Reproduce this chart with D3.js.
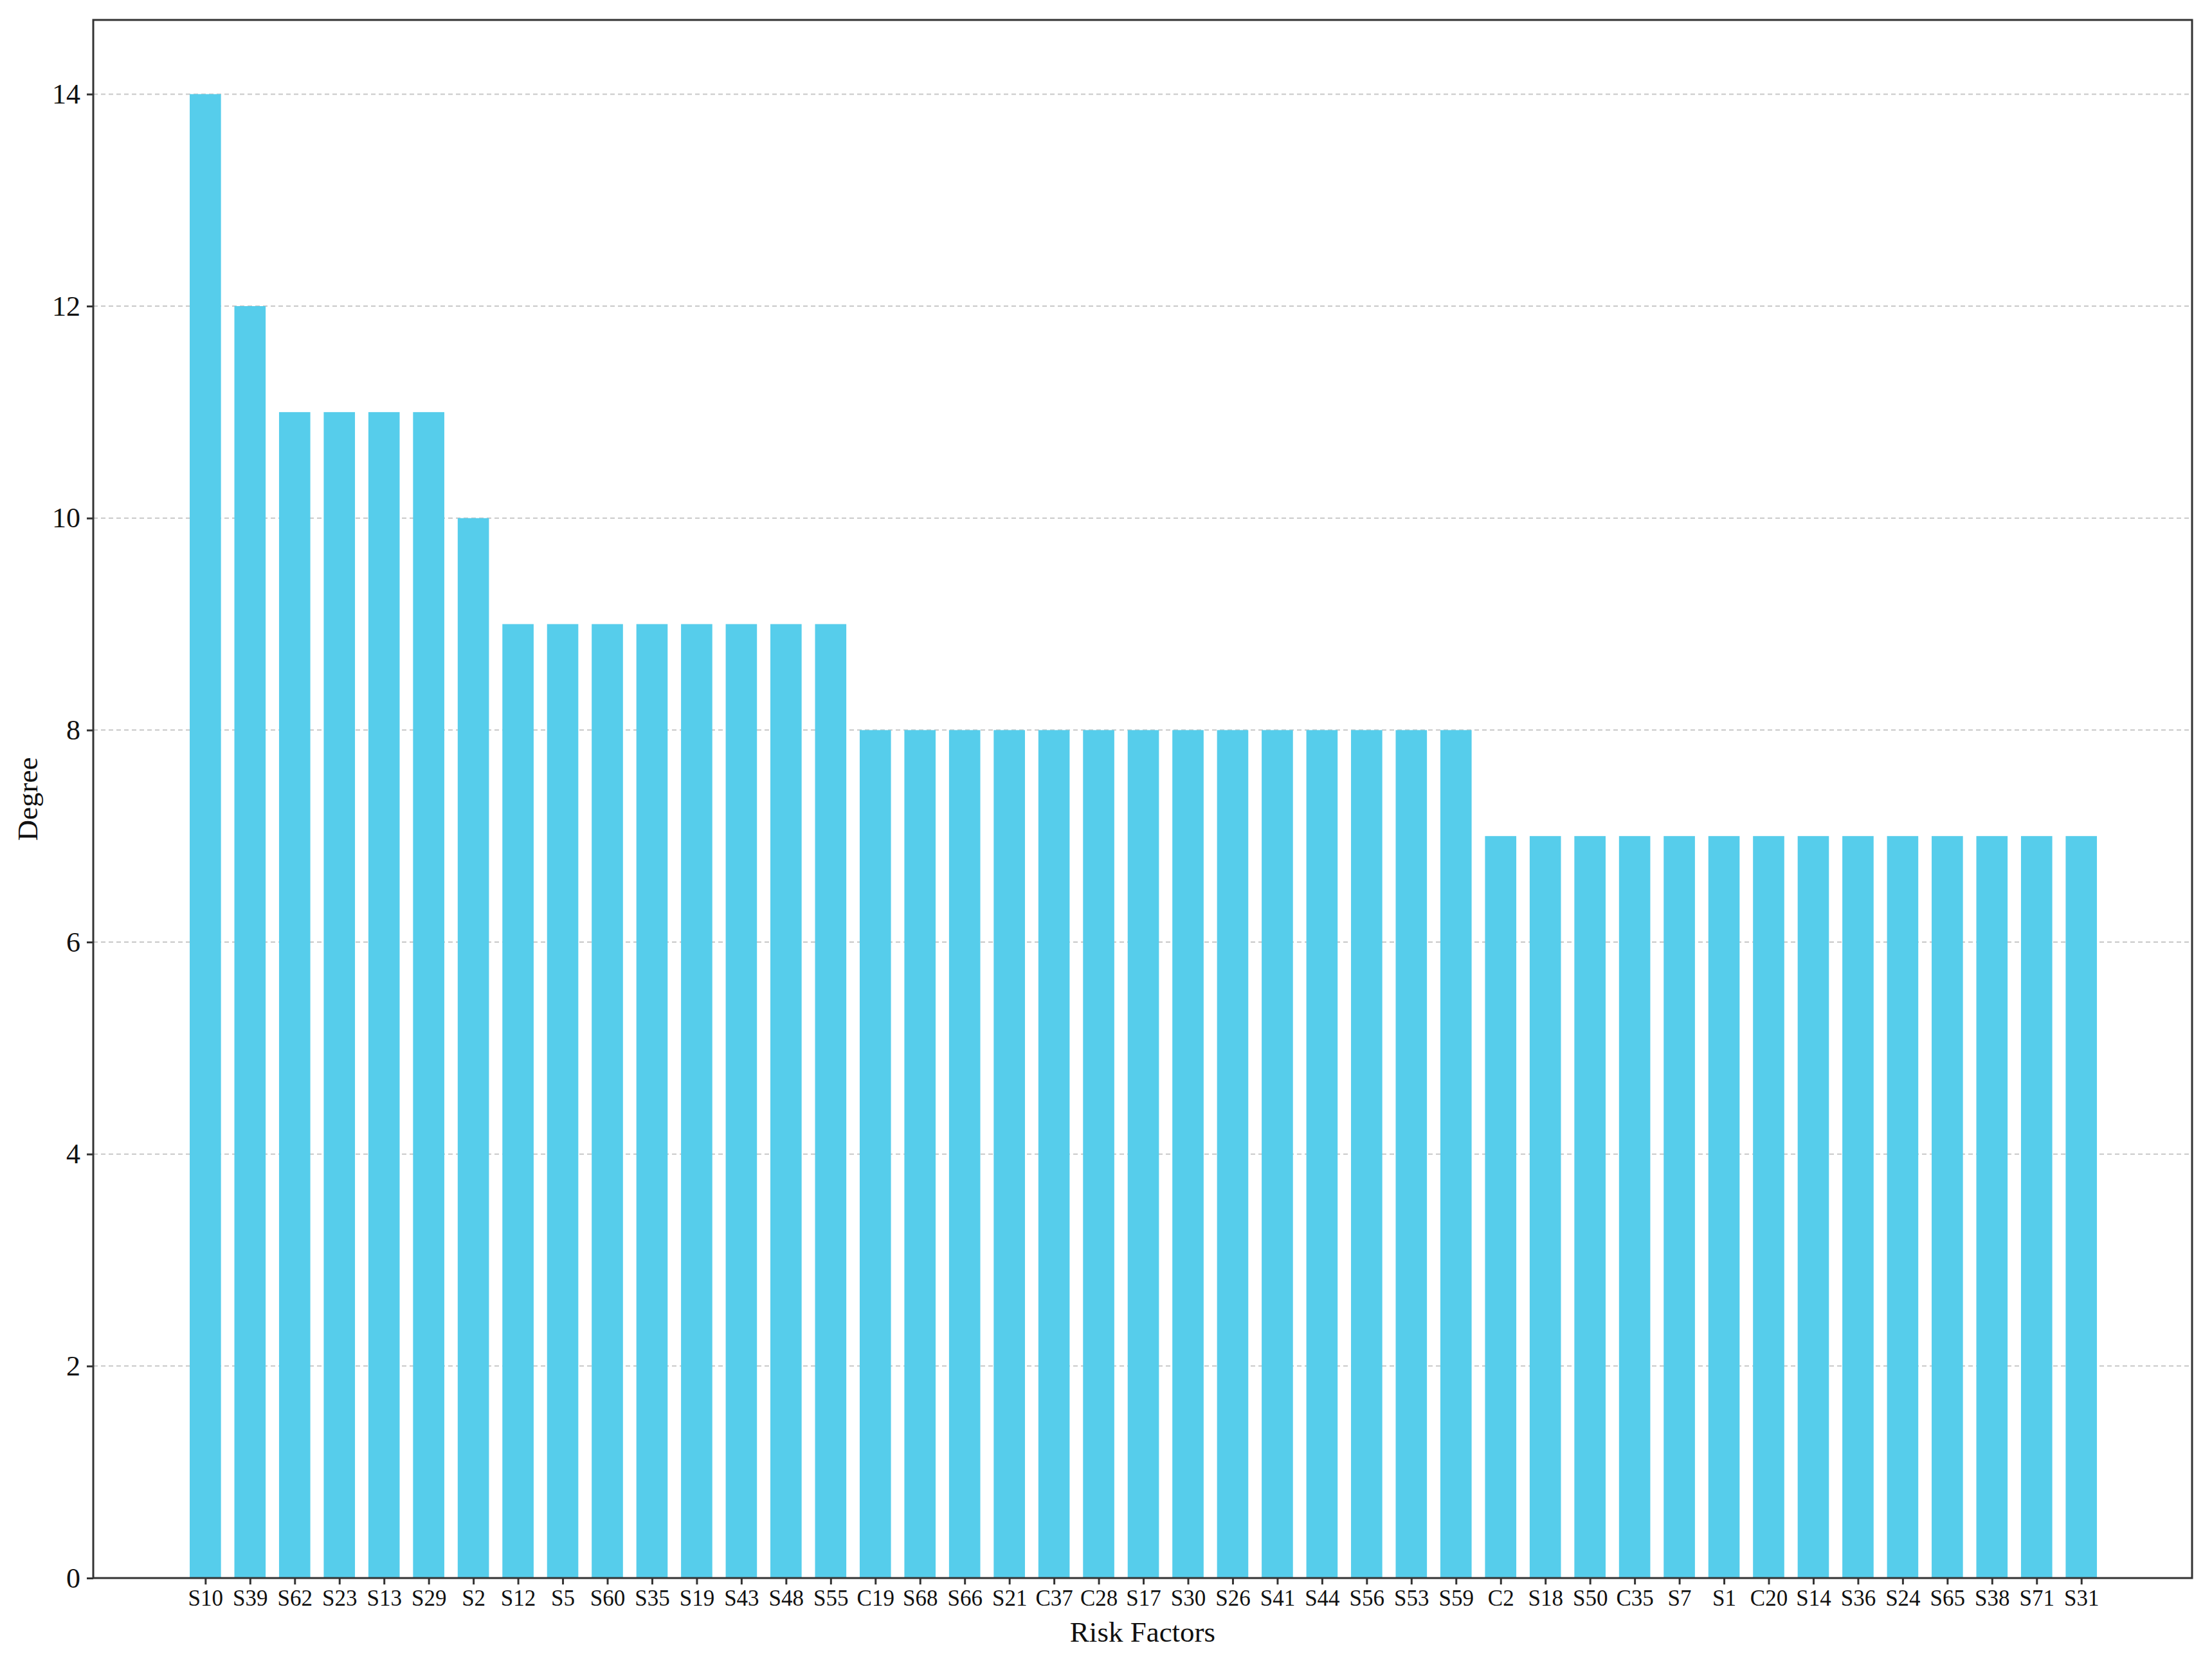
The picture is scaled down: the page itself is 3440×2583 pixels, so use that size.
<!DOCTYPE html>
<html>
<head>
<meta charset="utf-8">
<script src="https://cdn.jsdelivr.net/npm/d3@7"></script>
<style>
  body { margin: 0; background: #fff; overflow: hidden; }
  text { font-family: "Liberation Serif", "Times New Roman", serif; fill: #111; }
</style>
</head>
<body>
<div id="chart"></div>
<script>
// Degree of each risk factor, sorted descending
const factors = ["S10","S39","S62","S23","S13","S29","S2","S12","S5","S60","S35","S19","S43","S48","S55",
  "C19","S68","S66","S21","C37","C28","S17","S30","S26","S41","S44","S56","S53","S59",
  "C2","S18","S50","C35","S7","S1","C20","S14","S36","S24","S65","S38","S71","S31"];
const degrees = [14,12,11,11,11,11,10,9,9,9,9,9,9,9,9,
  8,8,8,8,8,8,8,8,8,8,8,8,8,8,
  7,7,7,7,7,7,7,7,7,7,7,7,7,7];
const yTicks = [0, 2, 4, 6, 8, 10, 12, 14];

const width = 3440, height = 2583;
const margin = {top: 31, left: 145, right: 31, bottom: 129};
const innerWidth = width - margin.left - margin.right;
const innerHeight = height - margin.top - margin.bottom;

const svg = d3.select("#chart")
    .append("svg")
        .attr("width", width)
        .attr("height", height);

const innerChart = svg.append("g")
    .attr("transform", `translate(${margin.left}, ${margin.top})`);

// Scales: bar index on a linear scale so the padding matches the reference
const n = factors.length;
const xScale = d3.scaleLinear()
    .domain([-2.51, n - 1 + 2.48])
    .range([0, innerWidth]);
const step = xScale(1) - xScale(0);
const barWidth = step * 0.7;
const yScale = d3.scaleLinear()
    .domain([0, 14.7])
    .range([innerHeight, 0]);

// Grid lines
innerChart.append("g")
    .selectAll("line")
    .data(yTicks.filter(d => d > 0))
    .join("line")
        .attr("x1", 0)
        .attr("x2", innerWidth)
        .attr("y1", d => yScale(d))
        .attr("y2", d => yScale(d))
        .attr("stroke", "#c8c8c8")
        .attr("stroke-width", 2)
        .attr("stroke-dasharray", "7,5");

// Bars
innerChart.append("g")
    .selectAll("rect")
    .data(degrees)
    .join("rect")
        .attr("x", (d, i) => xScale(i) - barWidth / 2)
        .attr("y", d => yScale(d))
        .attr("width", barWidth)
        .attr("height", d => innerHeight - yScale(d))
        .attr("fill", "#56cdeb");

// Axes
const leftAxis = d3.axisLeft(yScale)
    .tickValues(yTicks)
    .tickSize(10)
    .tickPadding(10);
innerChart.append("g")
    .attr("class", "axis-y")
    .call(leftAxis)
    .call(g => g.selectAll("text").style("font-size", "44px"));

const bottomAxis = d3.axisBottom(xScale)
    .tickValues(d3.range(n))
    .tickFormat(i => factors[i])
    .tickSize(10)
    .tickPadding(8);
innerChart.append("g")
    .attr("class", "axis-x")
    .attr("transform", `translate(0, ${innerHeight})`)
    .call(bottomAxis)
    .call(g => g.selectAll("text").style("font-size", "35px"));

innerChart.selectAll(".domain").remove();
innerChart.selectAll(".tick line").attr("stroke", "#333").attr("stroke-width", 3);

// Frame
innerChart.append("rect")
    .attr("width", innerWidth)
    .attr("height", innerHeight)
    .attr("fill", "none")
    .attr("stroke", "#333")
    .attr("stroke-width", 3);

// Axis titles
svg.append("text")
    .attr("x", margin.left + innerWidth / 2)
    .attr("y", 2553)
    .attr("text-anchor", "middle")
    .style("font-size", "45px")
    .text("Risk Factors");

svg.append("text")
    .attr("transform", `translate(58, ${margin.top + innerHeight / 2}) rotate(-90)`)
    .attr("text-anchor", "middle")
    .style("font-size", "45px")
    .text("Degree");
</script>
</body>
</html>
